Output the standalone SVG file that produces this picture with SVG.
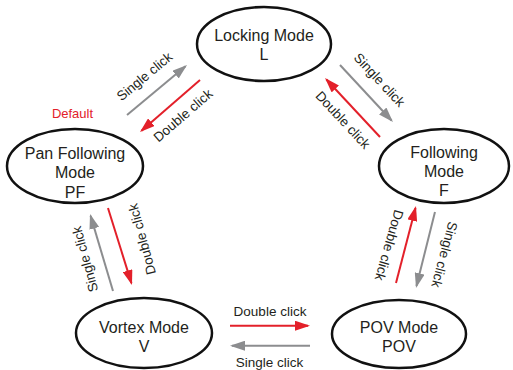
<svg xmlns="http://www.w3.org/2000/svg" width="513" height="370" viewBox="0 0 513 370">
<style>
.node ellipse{fill:#fff;stroke:#111;stroke-width:2.5}
.node text{font-family:"Liberation Sans",Arial,sans-serif;font-size:16px;fill:#231f20;text-anchor:middle}
.lbl{font-family:"Liberation Sans",Arial,sans-serif;font-size:13.5px;fill:#231f20;text-anchor:middle}
.red{stroke:#e3202a;stroke-width:2;fill:none}
.gray{stroke:#8c8d8f;stroke-width:2;fill:none}
</style>
<defs>
<marker id="ar" viewBox="0 0 15 10" markerWidth="15" markerHeight="10" markerUnits="userSpaceOnUse" refX="13" refY="5" orient="auto"><path d="M0,0 L15,5 L0,10 z" fill="#e3202a"/></marker>
<marker id="ag" viewBox="0 0 15 10" markerWidth="15" markerHeight="10" markerUnits="userSpaceOnUse" refX="13" refY="5" orient="auto"><path d="M0,0 L15,5 L0,10 z" fill="#8c8d8f"/></marker>
</defs>
<rect width="513" height="370" fill="#fff"/>
<g id="connectors">
<line class="gray" x1="127" y1="115" x2="185.5" y2="66.3" marker-end="url(#ag)"/>
<line class="red" x1="200" y1="80" x2="141.5" y2="130.7" marker-end="url(#ar)"/>
<line class="gray" x1="340" y1="65" x2="391.6" y2="120.5" marker-end="url(#ag)"/>
<line class="red" x1="380" y1="137" x2="326.4" y2="79.5" marker-end="url(#ar)"/>
<line class="gray" x1="113" y1="291" x2="90.6" y2="215.9" marker-end="url(#ag)"/>
<line class="red" x1="108" y1="208" x2="131.4" y2="283.1" marker-end="url(#ar)"/>
<line class="red" x1="396" y1="283" x2="415.5" y2="207.9" marker-end="url(#ar)"/>
<line class="gray" x1="435" y1="212" x2="416.5" y2="286" marker-end="url(#ag)"/>
<line class="red" x1="230" y1="325.7" x2="308" y2="325.7" marker-end="url(#ar)"/>
<line class="gray" x1="310" y1="345.7" x2="232" y2="345.7" marker-end="url(#ag)"/>
<text class="lbl" transform="translate(147.5,80) rotate(-39.8)">Single click</text>
<text class="lbl" transform="translate(186,119) rotate(-40.9)">Double click</text>
<text class="lbl" transform="translate(376,83) rotate(47)">Single click</text>
<text class="lbl" transform="translate(339.5,123) rotate(47)">Double click</text>
<text class="lbl" transform="translate(89.5,258) rotate(-105)">Single click</text>
<text class="lbl" transform="translate(146.5,238) rotate(-105)">Double click</text>
<text class="lbl" transform="translate(384.7,244) rotate(106)">Double click</text>
<text class="lbl" transform="translate(440,253.3) rotate(105)">Single click</text>
<text class="lbl" x="270" y="316">Double click</text>
<text class="lbl" x="269.5" y="367">Single click</text>
</g>
<text x="72.5" y="118" font-family="Liberation Sans, Arial, sans-serif" font-size="13" fill="#e3202a" text-anchor="middle">Default</text>
<g id="node-L" class="node"><ellipse cx="264" cy="44" rx="67" ry="37"/><text x="264" y="41">Locking Mode</text><text x="264" y="60">L</text></g>
<g id="node-PF" class="node"><ellipse cx="75" cy="166" rx="68" ry="37"/><text x="75" y="159">Pan Following</text><text x="75" y="178">Mode</text><text x="75" y="198">PF</text></g>
<g id="node-F" class="node"><ellipse cx="444" cy="166" rx="65" ry="37"/><text x="444" y="158">Following</text><text x="444" y="177">Mode</text><text x="444" y="196">F</text></g>
<g id="node-V" class="node"><ellipse cx="144" cy="333" rx="68" ry="35"/><text x="144" y="333">Vortex Mode</text><text x="144" y="352">V</text></g>
<g id="node-POV" class="node"><ellipse cx="399" cy="334" rx="67" ry="34"/><text x="399" y="333">POV Mode</text><text x="399" y="352">POV</text></g>
</svg>
